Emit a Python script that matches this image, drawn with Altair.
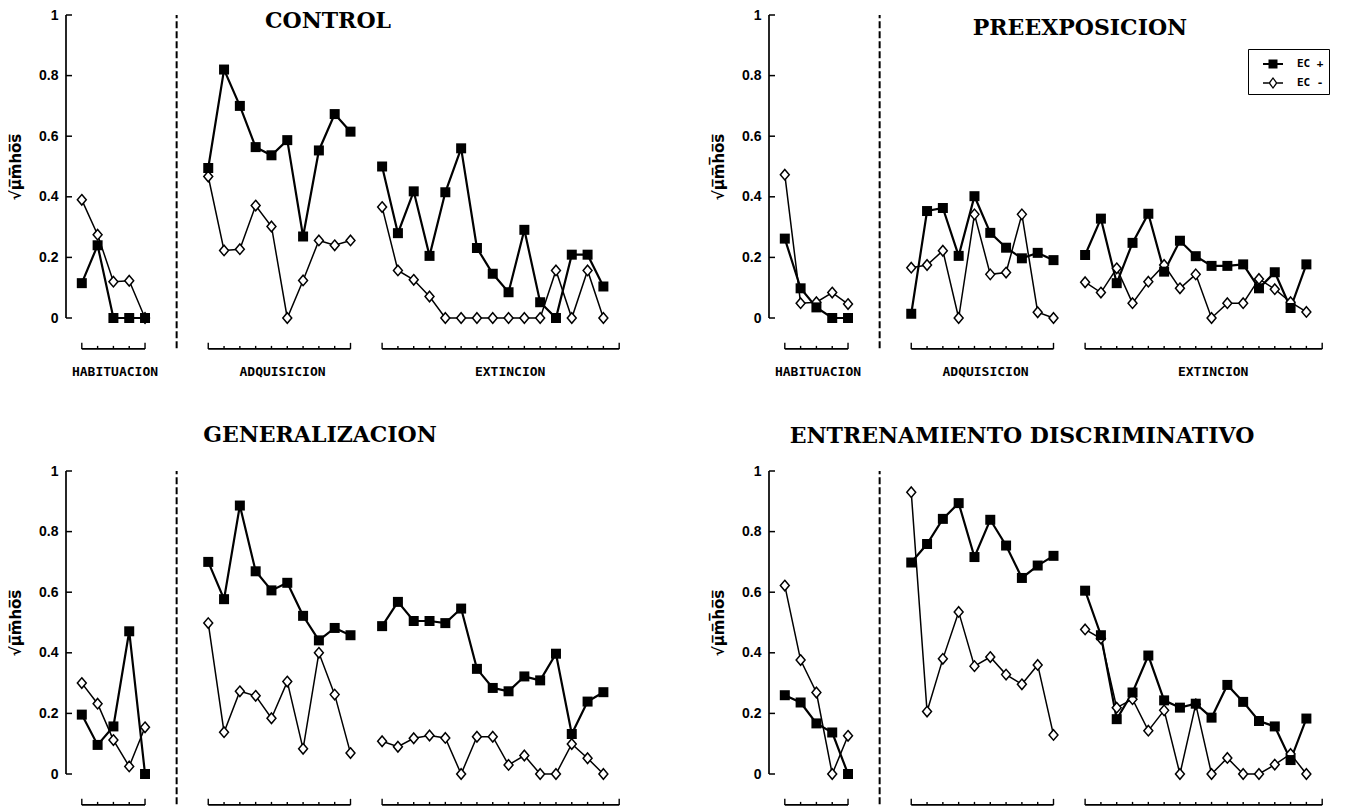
import altair as alt
import pandas as pd

# ---------------- data ----------------
SERIES = ["EC +", "EC -"]
PHASES = ["HABITUACION", "ADQUISICION", "EXTINCION"]

hab_trials = [1, 2, 3, 4, 5]
acq_trials = [9, 10, 11, 12, 13, 14, 15, 16, 17, 18]
ext_trials = [20, 21, 22, 23, 24, 25, 26, 27, 28, 29, 30, 31, 32, 33, 34]

# CONTROL
control_hab_pos = [0.115, 0.24, 0.0, 0.0, 0.0]
control_hab_neg = [0.39, 0.275, 0.12, 0.123, 0.0]
control_acq_pos = [0.495, 0.82, 0.70, 0.564, 0.537, 0.587, 0.269, 0.553, 0.673, 0.615]
control_acq_neg = [0.467, 0.223, 0.227, 0.371, 0.302, 0.0, 0.124, 0.256, 0.24, 0.256]
control_ext_pos = [0.50, 0.28, 0.418, 0.205, 0.415, 0.56, 0.231, 0.146, 0.085, 0.291, 0.052, 0.0, 0.209, 0.209, 0.104]
control_ext_neg = [0.366, 0.157, 0.126, 0.071, 0.0, 0.0, 0.0, 0.0, 0.0, 0.0, 0.0, 0.157, 0.0, 0.157, 0.0]

# PREEXPOSICION
pre_hab_pos = [0.262, 0.098, 0.035, 0.0, 0.0]
pre_hab_neg = [0.473, 0.049, 0.052, 0.084, 0.046]
pre_acq_pos = [0.014, 0.353, 0.363, 0.205, 0.402, 0.281, 0.232, 0.197, 0.215, 0.191]
pre_acq_neg = [0.166, 0.175, 0.222, 0.0, 0.342, 0.144, 0.15, 0.342, 0.019, 0.0]
pre_ext_pos = [0.208, 0.328, 0.115, 0.248, 0.344, 0.153, 0.255, 0.204, 0.172, 0.172, 0.177, 0.098, 0.151, 0.033, 0.177]
pre_ext_neg = [0.118, 0.084, 0.164, 0.049, 0.12, 0.175, 0.098, 0.144, 0.0, 0.049, 0.049, 0.129, 0.095, 0.052, 0.02]

# GENERALIZACION
gen_hab_pos = [0.196, 0.096, 0.157, 0.471, 0.0]
gen_hab_neg = [0.30, 0.232, 0.112, 0.025, 0.154]
gen_acq_pos = [0.70, 0.577, 0.886, 0.669, 0.606, 0.631, 0.522, 0.441, 0.482, 0.458]
gen_acq_neg = [0.498, 0.138, 0.273, 0.258, 0.184, 0.305, 0.083, 0.40, 0.262, 0.069]
gen_ext_pos = [0.488, 0.568, 0.505, 0.505, 0.498, 0.546, 0.347, 0.284, 0.273, 0.322, 0.309, 0.397, 0.132, 0.239, 0.27]
gen_ext_neg = [0.108, 0.09, 0.118, 0.127, 0.119, 0.0, 0.123, 0.123, 0.03, 0.061, 0.0, 0.0, 0.099, 0.052, 0.0]

# ENTRENAMIENTO DISCRIMINATIVO
ent_hab_pos = [0.26, 0.236, 0.167, 0.137, 0.0]
ent_hab_neg = [0.622, 0.376, 0.269, 0.0, 0.126]
ent_acq_pos = [0.698, 0.759, 0.842, 0.894, 0.716, 0.839, 0.754, 0.647, 0.688, 0.72]
ent_acq_neg = [0.93, 0.206, 0.38, 0.535, 0.356, 0.386, 0.328, 0.296, 0.36, 0.129]
ent_ext_pos = [0.605, 0.458, 0.181, 0.269, 0.391, 0.243, 0.219, 0.232, 0.186, 0.294, 0.238, 0.175, 0.157, 0.046, 0.183]
ent_ext_neg = [0.477, 0.447, 0.219, 0.247, 0.143, 0.21, 0.0, 0.23, 0.0, 0.053, 0.0, 0.0, 0.031, 0.066, 0.0]

PANEL_DATA = {
    "CONTROL": (control_hab_pos, control_hab_neg, control_acq_pos, control_acq_neg, control_ext_pos, control_ext_neg),
    "PREEXPOSICION": (pre_hab_pos, pre_hab_neg, pre_acq_pos, pre_acq_neg, pre_ext_pos, pre_ext_neg),
    "GENERALIZACION": (gen_hab_pos, gen_hab_neg, gen_acq_pos, gen_acq_neg, gen_ext_pos, gen_ext_neg),
    "ENTRENAMIENTO DISCRIMINATIVO": (ent_hab_pos, ent_hab_neg, ent_acq_pos, ent_acq_neg, ent_ext_pos, ent_ext_neg),
}

y_ticks = [0, 0.2, 0.4, 0.6, 0.8, 1]
divider_trial = 7
phase_spans = {"HABITUACION": (1, 5), "ADQUISICION": (9, 18), "EXTINCION": (20, 35)}
phase_label_pos = {"HABITUACION": 3.1, "ADQUISICION": 13.7, "EXTINCION": 28.1}

rows = []
for panel, arrs in PANEL_DATA.items():
    hp, hn, ap, an, ep, en = arrs
    for phase, trials, pos, neg in [("HABITUACION", hab_trials, hp, hn),
                                    ("ADQUISICION", acq_trials, ap, an),
                                    ("EXTINCION", ext_trials, ep, en)]:
        for t, v in zip(trials, pos):
            rows.append({"panel": panel, "phase": phase, "serie": "EC +", "trial": t, "value": v})
        for t, v in zip(trials, neg):
            rows.append({"panel": panel, "phase": phase, "serie": "EC -", "trial": t, "value": v})
data = pd.DataFrame(rows)

# ---------------- styling ----------------
UNIT = 15.8
W = int(round(36 * UNIT))
H = 303
YTITLE = "\u221a\u00b5\u0305m\u0305h\u0305o\u0305s\u0305"
DIAMOND = "M0,-1L0.85,0L0,1L-0.85,0Z"
# legend glyphs drawn as filled outlines: line + filled square / line + open diamond
LEG_SQ = "M-1,-0.1H1V0.1H-1ZM-0.45,-0.45H0.45V0.45H-0.45Z"
LEG_DI = ("M-1,-0.075H-0.42V0.075H-1Z"
          "M0.42,-0.075H1V0.075H0.42Z"
          "M0,-0.6L0.45,0L0,0.6L-0.45,0Z"
          "M0,-0.4L-0.28,0L0,0.4L0.28,0Z")
NBSP = "\u00a0" * 15

xscale = alt.Scale(domain=[0, 36], nice=False, zero=False)
yscale = alt.Scale(domain=[0, 1], nice=False, zero=False)
X = alt.X("trial:Q", scale=xscale, axis=None)
X2 = alt.X2("trial2:Q")
yaxis = alt.Axis(values=y_ticks, format="~g", domain=False, grid=False, ticks=False,
                 labelPadding=8, labelFont="Liberation Sans", labelFontWeight="bold",
                 labelFontSize=14, labelColor="black",
                 title=YTITLE, titleFont="DejaVu Sans", titleFontWeight="bold",
                 titleFontSize=15, titleColor="black", titlePadding=15)
Y = alt.Y("value:Q", scale=yscale, axis=yaxis)
Y2 = alt.Y2("value2:Q")


def panel(name, title_x, title_y, labels, legend):
    d = data[data.panel == name]
    base = alt.Chart(d)
    layers = []

    axis_df = pd.DataFrame({"trial": [0], "value": [0], "value2": [1]})
    layers.append(alt.Chart(axis_df).mark_rule(color="black", strokeWidth=1.7)
                  .encode(x=X, y=Y, y2=Y2))
    tick_df = pd.DataFrame({"trial": [0] * len(y_ticks), "trial2": [0.38] * len(y_ticks), "value": y_ticks})
    layers.append(alt.Chart(tick_df).mark_rule(color="black", strokeWidth=1.5)
                  .encode(x=X, x2=X2, y=Y))

    div_df = pd.DataFrame({"trial": [divider_trial], "value": [-0.1], "value2": [1.0]})
    layers.append(alt.Chart(div_df).mark_rule(color="black", strokeWidth=2, strokeDash=[7, 3])
                  .encode(x=X, y=Y, y2=Y2))

    br_rows, bt_rows = [], []
    for ph, (s, e) in phase_spans.items():
        br_rows.append({"trial": s, "trial2": e, "value": -0.102})
        for t in range(s, e + 1):
            top = -0.082 if t in (s, e) else -0.092
            bt_rows.append({"trial": t, "value": -0.102, "value2": top})
    layers.append(alt.Chart(pd.DataFrame(br_rows)).mark_rule(color="black", strokeWidth=1.6)
                  .encode(x=X, x2=X2, y=Y))
    layers.append(alt.Chart(pd.DataFrame(bt_rows)).mark_rule(color="black", strokeWidth=1.4)
                  .encode(x=X, y=Y, y2=Y2))

    if labels:
        lab_df = pd.DataFrame({"phase": PHASES, "trial": [phase_label_pos[p] for p in PHASES],
                               "value": [-0.178] * 3})
        layers.append(alt.Chart(lab_df).mark_text(font="DejaVu Sans Mono", fontWeight="bold",
                                                  fontSize=13, color="black", baseline="middle")
                      .encode(x=X, y=Y, text="phase:N"))

    layers.append(base.transform_filter(alt.datum.serie == "EC -")
                  .mark_line(color="black", strokeWidth=1.5)
                  .encode(x=X, y=Y, detail="phase:N"))
    layers.append(base.transform_filter(alt.datum.serie == "EC +")
                  .mark_line(color="black", strokeWidth=2.2)
                  .encode(x=X, y=Y, detail="phase:N"))
    layers.append(base.transform_filter(alt.datum.serie == "EC -")
                  .mark_point(shape=DIAMOND, size=110, filled=True, fill="white",
                              stroke="black", strokeWidth=1.5, opacity=1)
                  .encode(x=X, y=Y))
    layers.append(base.transform_filter(alt.datum.serie == "EC +")
                  .mark_point(shape="square", size=100, filled=True, color="black", opacity=1)
                  .encode(x=X, y=Y))

    t_df = pd.DataFrame({"panel": [name]})
    layers.append(alt.Chart(t_df).mark_text(font="DejaVu Serif", fontWeight="bold", fontSize=22,
                                            color="black", align="center", baseline="alphabetic")
                  .encode(x=alt.value(title_x), y=alt.value(title_y), text="panel:N"))

    if legend:
        leg = alt.Legend(title=None, orient="none", legendX=479, legendY=34,
                         strokeColor="black", fillColor="white", padding=5,
                         symbolOffset=10, rowPadding=4, symbolSize=400,
                         symbolFillColor="black", symbolStrokeWidth=0,
                         labelFont="DejaVu Sans Mono", labelFontWeight="bold",
                         labelFontSize=11, labelColor="black", labelOffset=14,
                         labelLimit=300, labelExpr="datum.label + '" + NBSP + "'")
        leg_df = pd.DataFrame({"serie": SERIES, "trial": [0, 0], "value": [0, 0]})
        layers.append(alt.Chart(leg_df).transform_filter("false")
                      .mark_point(filled=True, color="black", opacity=1)
                      .encode(x=X, y=Y,
                              shape=alt.Shape("serie:N", scale=alt.Scale(domain=SERIES, range=[LEG_SQ, LEG_DI]), legend=leg)))

    return alt.layer(*layers).properties(width=W, height=H)


top = alt.hconcat(panel("CONTROL", 262, 13, True, False),
                  panel("PREEXPOSICION", 311, 20, True, True),
                  spacing=134, bounds="flush").resolve_scale(shape="independent")
bottom = alt.hconcat(panel("GENERALIZACION", 254, -29, False, False),
                     panel("ENTRENAMIENTO DISCRIMINATIVO", 253, -28, False, False),
                     spacing=134, bounds="flush").resolve_scale(shape="independent")

chart = alt.vconcat(top, bottom, spacing=H + 153, bounds="flush").resolve_scale(
    shape="independent"
).properties(padding={"left": 0, "top": 0, "right": 0, "bottom": 0}, background="white"
).configure_view(stroke=None)

chart.save("out.html", embed_options={"renderer": "svg", "actions": False})
